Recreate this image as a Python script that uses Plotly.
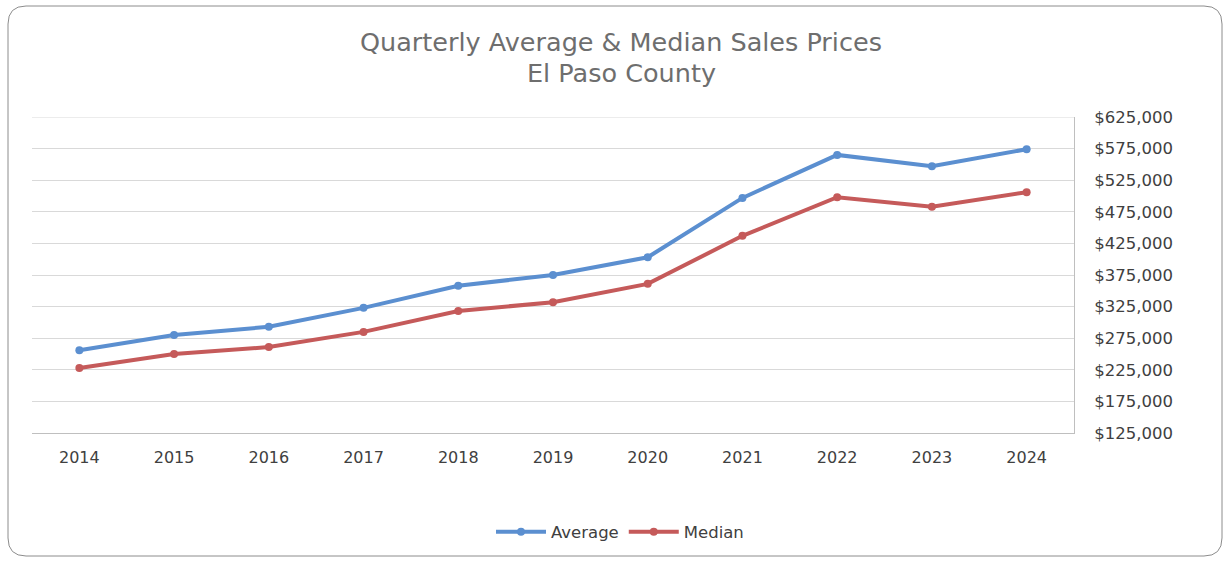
import plotly.graph_objects as go

years = ["2014", "2015", "2016", "2017", "2018", "2019", "2020", "2021", "2022", "2023", "2024"]
average = [256000, 280000, 293000, 323000, 358000, 375000, 403000, 497000, 565000, 547000, 574000]
median = [228000, 250000, 261000, 285000, 318000, 332000, 361000, 437000, 498000, 483000, 506000]
y_ticks = list(range(125000, 625001, 50000))
title_lines = ["Quarterly Average &amp; Median Sales Prices", "El Paso County"]

FONT = "DejaVu Sans"
TITLE_COLOR = "#6E6E6E"
LABEL_COLOR = "#404040"

fig = go.Figure()
fig.add_trace(go.Scatter(
    x=years, y=average, name="Average", mode="lines+markers",
    line=dict(color="#5B8FD0", width=4),
    marker=dict(symbol="circle", size=8, color="#5B8FD0"),
))
fig.add_trace(go.Scatter(
    x=years, y=median, name="Median", mode="lines+markers",
    line=dict(color="#C55A5A", width=4),
    marker=dict(symbol="circle", size=8, color="#C55A5A"),
))

W, H = 1230, 561
pl, pr, pt, pb = 32, 156, 117, 128
pw, ph = W - pl - pr, H - pt - pb

def px(x):
    return (x - pl) / pw

def py(y):
    return (H - pb - y) / ph

fig.update_layout(
    width=W, height=H,
    margin=dict(l=pl, r=pr, t=pt, b=pb),
    paper_bgcolor="white", plot_bgcolor="white",
    font=dict(family=FONT, color=LABEL_COLOR),
    showlegend=True,
    legend=dict(
        orientation="h", x=px(620), xanchor="center", y=py(532), yanchor="middle",
        font=dict(family=FONT, size=16.5, color=LABEL_COLOR),
        itemwidth=50,
    ),
    xaxis=dict(
        type="category", range=[-0.5, 10.5],
        showgrid=False, showline=True, linecolor="#BFBFBF", linewidth=1,
        ticks="", tickfont=dict(family=FONT, size=16, color=LABEL_COLOR),
        ticklabelstandoff=10,
    ),
    yaxis=dict(
        side="right", range=[125000, 625000],
        tickvals=y_ticks, ticktext=[f"${v:,}" for v in y_ticks],
        showgrid=True, gridcolor="#D9D9D9", gridwidth=1,
        showline=True, linecolor="#BFBFBF", linewidth=1, mirror=False,
        zeroline=False, ticks="",
        tickfont=dict(family=FONT, size=16.5, color=LABEL_COLOR),
        ticklabelstandoff=16,
    ),
)

# gridline along the top of the value range
fig.add_shape(type="line", xref="paper", yref="y", x0=0, x1=1,
              y0=y_ticks[-1], y1=y_ticks[-1],
              line=dict(color="#D9D9D9", width=1), layer="below")

# two-line chart title
for text, yc in zip(title_lines, [42, 73]):
    fig.add_annotation(
        text=text, xref="paper", yref="paper", x=px(621), y=py(yc),
        xanchor="center", yanchor="middle", showarrow=False,
        font=dict(family=FONT, size=25.5, color=TITLE_COLOR),
    )

# rounded border around the chart area
x0, y0, x1, y1, r = 8, 6, 1222, 556, 18
path = (
    f"M {px(x0 + r)},{py(y0)} L {px(x1 - r)},{py(y0)} "
    f"Q {px(x1)},{py(y0)} {px(x1)},{py(y0 + r)} "
    f"L {px(x1)},{py(y1 - r)} Q {px(x1)},{py(y1)} {px(x1 - r)},{py(y1)} "
    f"L {px(x0 + r)},{py(y1)} Q {px(x0)},{py(y1)} {px(x0)},{py(y1 - r)} "
    f"L {px(x0)},{py(y0 + r)} Q {px(x0)},{py(y0)} {px(x0 + r)},{py(y0)} Z"
)
fig.add_shape(type="path", path=path, xref="paper", yref="paper",
              line=dict(color="#8C8C8C", width=1), layer="below")

fig.write_html("out.html")
